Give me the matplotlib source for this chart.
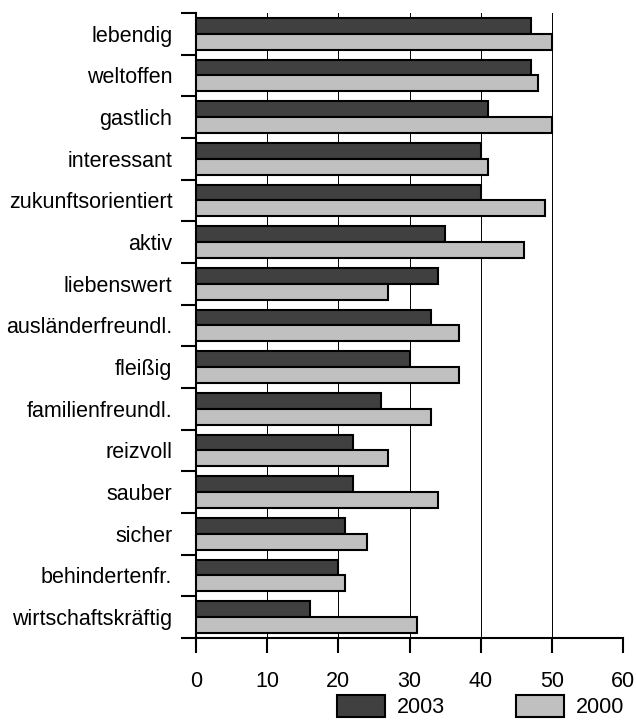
import matplotlib.pyplot as plt
import numpy as np
from matplotlib.patches import Patch

plt.rcParams['font.family'] = ['Liberation Sans', 'DejaVu Sans']

categories = ["lebendig", "weltoffen", "gastlich", "interessant", "zukunftsorientiert",
              "aktiv", "liebenswert", "ausländerfreundl.", "fleißig", "familienfreundl.",
              "reizvoll", "sauber", "sicher", "behindertenfr.", "wirtschaftskräftig"]
values_2003 = [47, 47, 41, 40, 40, 35, 34, 33, 30, 26, 22, 22, 21, 20, 16]
values_2000 = [50, 48, 50, 41, 49, 46, 27, 37, 37, 33, 27, 34, 24, 21, 31]
x_ticks = [0, 10, 20, 30, 40, 50, 60]

dark = "#404040"
light = "#c0c0c0"
fs = 15.5

fig = plt.figure(figsize=(6.36, 7.2), dpi=100)
ax = fig.add_axes([0.308, 0.114, 0.672, 0.868])

n = len(categories)
y = np.arange(n)[::-1]  # first category at the top
h = 0.38

ax.barh(y + h / 2, values_2003, height=h, color=dark, edgecolor="black", linewidth=1.5, zorder=3)
ax.barh(y - h / 2, values_2000, height=h, color=light, edgecolor="black", linewidth=1.5, zorder=3)

ax.set_xlim(0, 60)
ax.set_ylim(-0.5, n - 0.5)
ax.set_xticks(x_ticks)
ax.tick_params(axis="x", direction="out", length=11, width=1.5, pad=13, labelsize=fs)

# category labels sit between the boundary ticks
ax.set_yticks(y)
ax.set_yticklabels(categories, fontsize=fs)
ax.tick_params(axis="y", which="major", length=0, pad=17)
ax.set_yticks(np.arange(-0.5, n, 1.0), minor=True)
ax.tick_params(axis="y", which="minor", direction="out", length=11, width=1.5)

for gx in x_ticks[1:]:
    ax.axvline(gx, color="black", linewidth=0.7, zorder=1)

for side in ["top", "right"]:
    ax.spines[side].set_visible(False)
ax.spines["left"].set_linewidth(1.5)
ax.spines["bottom"].set_linewidth(1.5)

handles = [Patch(facecolor=dark, edgecolor="black", linewidth=1.5, label="2003"),
           Patch(facecolor=light, edgecolor="black", linewidth=1.5, label="2000")]
fig.legend(handles=handles, ncol=2, loc="center left", bbox_to_anchor=(0.530, 0.019),
           frameon=False, fontsize=fs, handlelength=2.23, handleheight=1.2,
           handletextpad=0.56, columnspacing=3.3, borderpad=0, borderaxespad=0)

fig.savefig("out.png", dpi=100)
